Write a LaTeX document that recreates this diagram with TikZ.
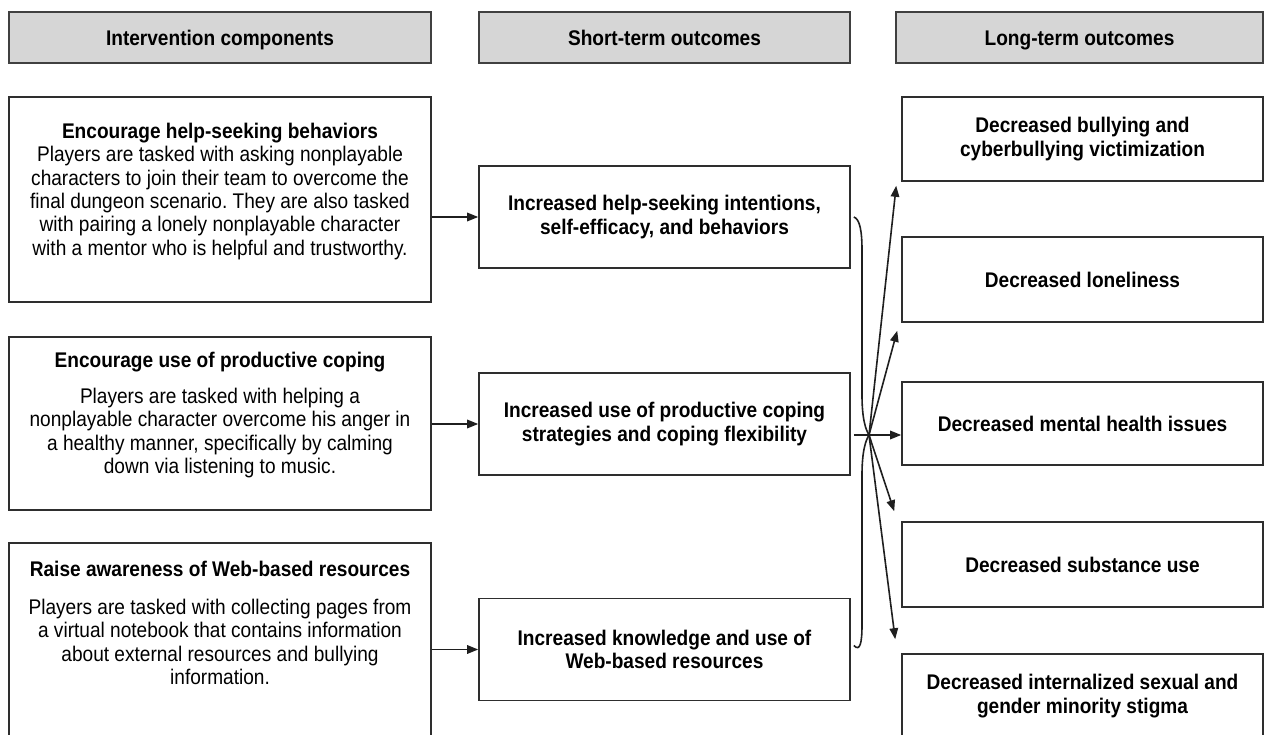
\documentclass[tikz,border=0pt]{standalone}
\usepackage{fontspec}
\setmainfont[FakeStretch=0.9]{Liberation Sans}
\usetikzlibrary{arrows.meta}
\frenchspacing
\newcommand{\bfnt}{\fontsize{21.2}{23.2}\selectfont\bfseries}
\newcommand{\rfnt}{\fontsize{21.2}{23.3}\selectfont}
\tikzset{
  hdr/.style={draw=black!75, fill=black!16, line width=1.6pt, inner sep=0pt, text height=17pt, text depth=1pt, font=\bfnt},
  box/.style={draw=black!82, line width=1.6pt, inner sep=0pt, align=center, font=\bfnt},
  ttl/.style={inner sep=0pt, align=center, font=\bfnt},
  body/.style={inner sep=0pt, align=center, font=\rfnt},
  arr/.style={-{Triangle[length=11pt,width=8.5pt]}, line width=1.6pt, draw=black!88},
  brace/.style={line width=1.6pt, draw=black!88},
}
\begin{document}
\begin{tikzpicture}[x=1pt,y=-1pt]
\useasboundingbox (0,0) rectangle (1264,735);
\clip (0,0) rectangle (1264,735);
\fill[white] (0,0) rectangle (1264,735);
% headers
\node[hdr, minimum width=422, minimum height=51] (H1) at (220,37.5) {Intervention components};
\node[hdr, minimum width=371, minimum height=51] (H2) at (664.5,37.5) {Short-term outcomes};
\node[hdr, minimum width=367, minimum height=51] (H3) at (1079.5,37.5) {Long-term outcomes};
% left boxes
\node[box, minimum width=422, minimum height=205] (L1) at (220,199.5) {};
\node[box, minimum width=422, minimum height=173] (L2) at (220,423.5) {};
\node[box, minimum width=422, minimum height=217] (L3) at (220,651.5) {};
\node[ttl] (L1t) at (220,133) {Encourage help-seeking behaviors};
\node[body] (L1b) at (220,203) {Players are tasked with asking nonplayable\\characters to join their team to overcome the\\final dungeon scenario. They are also tasked\\with pairing a lonely nonplayable character\\with a mentor who is helpful and trustworthy.};
\node[ttl] (L2t) at (220,362) {Encourage use of productive coping};
\node[body] (L2b) at (220,433) {Players are tasked with helping a\\nonplayable character overcome his anger in\\a healthy manner, specifically by calming\\down via listening to music.};
\node[ttl] (L3t) at (220,569) {Raise awareness of Web-based resources};
\node[body] (L3b) at (220,642) {Players are tasked with collecting pages from\\a virtual notebook that contains information\\about external resources and bullying\\information.};
% middle boxes
\node[box, minimum width=371, minimum height=102] (M1) at (664.5,217) {Increased help-seeking intentions,\\self-efficacy, and behaviors};
\node[box, minimum width=371, minimum height=102] (M2) at (664.5,424) {Increased use of productive coping\\strategies and coping flexibility};
\node[box, minimum width=371, minimum height=102] (M3) at (664.5,649.5) {Increased knowledge and use of\\Web-based resources};
% right boxes
\node[box, minimum width=361, minimum height=84] (R1) at (1082.5,139) {Decreased bullying and\\cyberbullying victimization};
\node[box, minimum width=361, minimum height=85] (R2) at (1082.5,279.5) {Decreased loneliness};
\node[box, minimum width=361, minimum height=83] (R3) at (1082.5,423.5) {Decreased mental health issues};
\node[box, minimum width=361, minimum height=85] (R4) at (1082.5,564.5) {Decreased substance use};
\node[box, minimum width=361, minimum height=106] (R5) at (1082.5,707) {};
\node[ttl] (R5t) at (1082.5,696) {Decreased internalized sexual and\\gender minority stigma};
% left to middle arrows
\draw[arr] (L1.east |- M1.west) -- (M1.west);
\draw[arr] (L2.east |- M2.west) -- (M2.west);
\draw[arr] (L3.east |- M3.west) -- (M3.west);
% brace and hub
\coordinate (hub) at (869,435);
\coordinate (b1) at ([xshift=3]M1.east);
\coordinate (b3) at ([xshift=3,yshift=4]M3.east);
\draw[brace] (b1) .. controls (860,219) and (862,232) .. (862,250) -- (862,395) .. controls (862,420) and (866,430) .. (hub);
\draw[brace] (hub) .. controls (866,440) and (862,450) .. (862,475) -- (862,625) .. controls (862,643) and (860,652) .. (b3);
\draw[arr] ([xshift=3]M2.east |- hub) -- (R3.west |- hub);
\draw[arr] (hub) -- ([shift={(-5,4)}]R1.south west);
\draw[arr] (hub) -- ([shift={(-4,8)}]R2.south west);
\draw[arr] (hub) -- ([shift={(-7,-10)}]R4.north west);
\draw[arr] (hub) -- ([shift={(-6,-14)}]R5.north west);
\end{tikzpicture}
\end{document}
